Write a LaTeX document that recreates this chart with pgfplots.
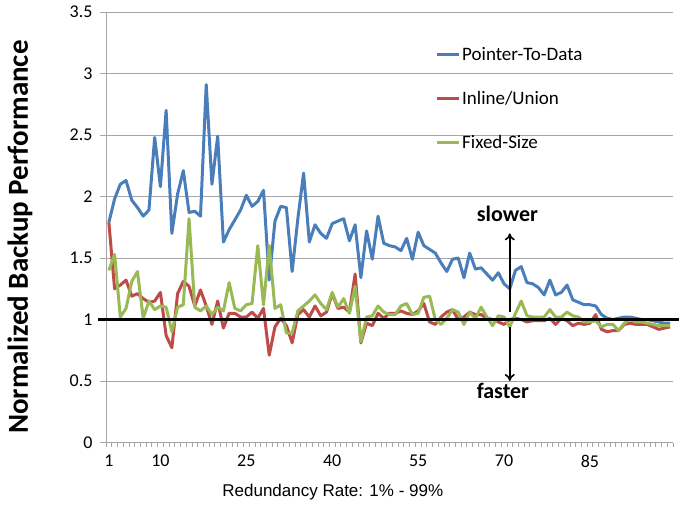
\documentclass[border=0pt]{standalone}
\usepackage{fontspec}
\setmainfont{Carlito}
\newfontfamily\arialfont{Liberation Sans}
\usepackage{pgfplots}
\usepackage{pgfplotstable}
\pgfplotsset{compat=1.18}
\usetikzlibrary{arrows.meta}
\definecolor{cblue}{HTML}{4A7EBB}
\definecolor{cred}{HTML}{BE4B48}
\definecolor{cgreen}{HTML}{98B954}
\definecolor{cgrid}{HTML}{A6A6A6}
\pgfplotstableread{
x b r g
1 1.79 1.79 1.40
2 1.98 1.25 1.53
3 2.10 1.28 1.02
4 2.13 1.32 1.09
5 1.97 1.19 1.31
6 1.91 1.21 1.39
7 1.84 1.17 1.01
8 1.89 1.14 1.15
9 2.48 1.15 1.08
10 2.08 1.22 1.11
11 2.70 0.87 1.10
12 1.70 0.77 0.90
13 2.02 1.21 1.10
14 2.21 1.31 1.12
15 1.87 1.27 1.82
16 1.88 1.11 1.10
17 1.84 1.24 1.07
18 2.91 1.11 1.11
19 2.10 0.96 1.04
20 2.49 1.15 1.10
21 1.63 0.93 1.07
22 1.73 1.05 1.30
23 1.81 1.05 1.09
24 1.89 1.02 1.07
25 2.01 1.02 1.12
26 1.92 1.06 1.13
27 1.96 1.01 1.60
28 2.05 1.09 1.12
29 1.32 0.71 1.60
30 1.80 0.94 1.09
31 1.92 1.01 1.12
32 1.91 0.95 0.89
33 1.39 0.81 0.89
34 1.82 1.04 1.07
35 2.19 1.08 1.11
36 1.63 1.02 1.15
37 1.77 1.11 1.20
38 1.70 1.03 1.13
39 1.66 1.06 1.08
40 1.78 1.21 1.22
41 1.80 1.09 1.10
42 1.82 1.10 1.17
43 1.64 1.06 1.05
44 1.77 1.37 1.27
45 1.34 0.81 0.82
46 1.72 0.97 1.02
47 1.49 0.95 1.03
48 1.84 1.05 1.11
49 1.62 1.01 1.06
50 1.60 1.05 1.04
51 1.59 1.05 1.04
52 1.56 1.07 1.11
53 1.66 1.05 1.13
54 1.49 1.04 1.04
55 1.71 1.07 1.05
56 1.60 1.13 1.18
57 1.57 0.98 1.19
58 1.54 0.96 1.00
59 1.46 1.02 0.96
60 1.39 1.06 1.01
61 1.49 1.08 1.08
62 1.50 1.00 1.06
63 1.34 1.02 0.96
64 1.54 1.06 1.06
65 1.41 1.04 1.01
66 1.42 1.04 1.10
67 1.37 1.01 1.02
68 1.32 1.00 0.95
69 1.38 0.98 1.03
70 1.29 0.96 1.02
71 1.25 1.00 0.94
72 1.40 1.01 1.05
73 1.43 1.00 1.15
74 1.30 0.98 1.03
75 1.29 0.99 1.02
76 1.26 0.99 1.02
77 1.20 0.99 1.02
78 1.32 1.01 1.08
79 1.20 0.96 1.02
80 1.22 1.01 1.02
81 1.28 0.99 1.06
82 1.16 0.95 1.03
83 1.14 0.97 1.02
84 1.12 0.96 0.98
85 1.12 0.97 0.98
86 1.11 1.04 0.99
87 1.04 0.92 0.94
88 1.01 0.90 0.96
89 1.00 0.91 0.96
90 1.01 0.91 0.91
91 1.02 0.96 0.97
92 1.02 0.97 1.00
93 1.01 0.96 0.98
94 1.00 0.96 0.98
95 1.00 0.96 0.97
96 0.99 0.94 0.96
97 0.98 0.92 0.95
98 0.97 0.93 0.95
99 0.97 0.94 0.95
}\datatable
\begin{document}
\begin{tikzpicture}
\path[use as bounding box] (-106bp,-66.5bp) rectangle (575bp,442.5bp);
\begin{axis}[
  at={(0,0)}, anchor=south west,
  width=567bp, height=430.5bp, scale only axis,
  xmin=0.5, xmax=99.5, ymin=0, ymax=3.5,
  clip=false,
  axis x line*=bottom, axis y line*=left,
  axis line style={draw=cgrid, line width=0.9bp},
  xtick={1,10,25,40,55,70,85},
  minor xtick={0.5,1.5,...,99.5},
  ytick={0,0.5,...,3.5},
  yticklabels={0,0.5,1,1.5,2,2.5,3,3.5},
  ymajorgrids,
  grid style={draw=cgrid, line width=0.9bp},
  tick align=outside,
  major x tick style={draw=none},
  minor x tick style={draw=cgrid, line width=0.7bp},
  major y tick style={draw=cgrid, line width=0.9bp},
  minor tick length=4bp, major tick length=6bp,
  /pgf/number format/assume math mode=true,
  ticklabel style={font=\fontsize{18bp}{21bp}\selectfont},
  yticklabel style={xshift=-4bp},
  xticklabel style={yshift=-3bp},
  legend style={draw=none, fill=none, at={(0.575,0.927)}, anchor=north west,
    font=\fontsize{19bp}{22bp}\selectfont, row sep=25bp},
  legend cell align=left,
  legend image code/.code={\draw[#1] (0bp,0bp) -- (22bp,0bp);},
  every axis plot/.append style={line width=3bp, line join=round},
]
\addplot[cblue] table[x=x, y=b] {\datatable};
\addlegendentry{Pointer-To-Data}
\addplot[cred] table[x=x, y=r] {\datatable};
\addlegendentry{Inline/Union}
\addplot[cgreen] table[x=x, y=g] {\datatable};
\addlegendentry{Fixed-Size}
\addplot[black, line width=3bp, forget plot] coordinates {(-0.85,1) (100.6,1)};
\draw[-{To[length=7bp,width=10bp]}, line width=1.6bp] (axis cs:71,1.06) -- (axis cs:71,1.70);
\draw[-{To[length=7bp,width=10bp]}, line width=1.6bp] (axis cs:71,0.94) -- (axis cs:71,0.50);
\node[font=\bfseries\fontsize{22bp}{26bp}\selectfont] at (axis cs:70.6,1.86) {slower};
\node[font=\bfseries\fontsize{22bp}{26bp}\selectfont] at (axis cs:69.8,0.42) {faster};
\node[rotate=90, font=\bfseries\fontsize{29bp}{34bp}\selectfont] at (rel axis cs:-0.1517,0.477) {Normalized Backup Performance};
\node[font=\arialfont\fontsize{17bp}{20bp}\selectfont] at (rel axis cs:0.400,-0.115) {Redundancy Rate: 1\% - 99\%};
\end{axis}
\end{tikzpicture}
\end{document}
